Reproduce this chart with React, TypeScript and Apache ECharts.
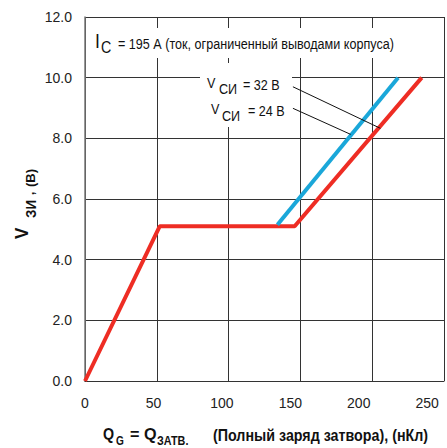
import React, { useEffect, useRef } from "react";
import * as echarts from "echarts";

// ---- data ----
const xTicks = [0, 50, 100, 150, 200, 250];
const yMin = 0;
const yMax = 12;
const yStep = 2;
const xMax = 250;
const labelAxisMax = 262.3; // tick labels in the reference are drawn on a slightly compressed scale
const series32Name = "V СИ = 32 В";
const series24Name = "V СИ = 24 В";
const series32 = [
  [0, 0],
  [52, 5.1],
  [146, 5.1],
  [234.5, 10],
];
const series24 = [
  [134, 5.15],
  [218, 10],
];
const leader32 = [
  [144.8, 9.7],
  [205.7, 8.33],
];
const leader24 = [
  [144.8, 8.99],
  [185, 8.13],
];

const RED = "#ee2d24";
const BLUE = "#1aa7d9";
const SANS = '"Liberation Sans", Arial, sans-serif';
const COND = 0.84;

export default function App() {
  const ref = useRef<HTMLDivElement>(null);
  useEffect(() => {
    document.body.style.margin = "0";
    const chart = echarts.init(ref.current!, undefined, { renderer: "svg" });
    const txt = (x: number, y: number, text: string, font: string, sx: number = COND) => ({
      type: "text",
      x,
      y,
      scaleX: sx,
      z: 101,
      silent: true,
      style: { text, font: font + " " + SANS, fill: "#111", verticalAlign: "middle", align: "left" },
    });
    chart.setOption({
      animation: false,
      backgroundColor: "#fff",
      grid: { left: 85, top: 17, right: 0, bottom: 67, containLabel: false },
      xAxis: [
        {
          type: "value",
          min: 0,
          max: xMax,
          interval: 50,
          axisLine: { show: true, onZero: false, lineStyle: { color: "#333", width: 1 } },
          axisTick: { show: false },
          axisLabel: { show: false },
          splitLine: { show: true, lineStyle: { color: "#333", width: 1 } },
        },
        {
          type: "value",
          position: "bottom",
          min: 0,
          max: labelAxisMax,
          interval: 50,
          axisLine: { show: false },
          axisTick: { show: false },
          splitLine: { show: false },
          axisLabel: {
            show: true,
            margin: 15,
            fontSize: 14,
            fontFamily: SANS,
            color: "#222",
            formatter: (v: number) => (xTicks.includes(v) ? String(v) : ""),
          },
        },
      ],
      yAxis: {
        type: "value",
        min: yMin,
        max: yMax,
        interval: yStep,
        axisLine: { show: true, lineStyle: { color: "#777", width: 1.5 } },
        axisTick: { show: false },
        axisLabel: {
          margin: 13,
          fontSize: 14,
          fontFamily: SANS,
          color: "#222",
          formatter: (v: number) => v.toFixed(1),
        },
        splitLine: { show: true, lineStyle: { color: "#333", width: 1 } },
      },
      series: [
        {
          name: series32Name,
          type: "line",
          data: series32,
          xAxisIndex: 0,
          symbol: "none",
          z: 3,
          lineStyle: { color: RED, width: 4 },
          markLine: {
            silent: true,
            symbol: ["none", "none"],
            label: { show: false },
            lineStyle: { color: "#111", width: 1, type: "solid" },
            data: [
              [{ coord: leader32[0] }, { coord: leader32[1] }],
              [{ coord: leader24[0] }, { coord: leader24[1] }],
            ],
          },
        },
        {
          name: series24Name,
          type: "line",
          data: series24,
          xAxisIndex: 0,
          symbol: "none",
          z: 4,
          lineStyle: { color: BLUE, width: 4 },
        },
      ],
      graphic: [
        { type: "rect", z: 100, silent: true, shape: { x: 88, y: 28, width: 310, height: 30 }, style: { fill: "#fff" } },
        { type: "rect", z: 100, silent: true, shape: { x: 200, y: 63, width: 92, height: 64 }, style: { fill: "#fff" } },
        txt(95, 40, "I", "21px"),
        txt(101, 47.5, "C", "17px"),
        txt(118, 43.5, "= 195 А (ток, ограниченный выводами корпуса)", "15px"),
        txt(207, 82.5, "V", "15px"),
        txt(219, 88.5, "СИ", "15px"),
        txt(243, 85, "= 32 В", "15px"),
        txt(211, 109, "V", "15px"),
        txt(222, 115.5, "СИ", "15px"),
        txt(248, 111, "= 24 В", "15px"),
        // x axis title
        txt(103, 434, "Q", "bold 17px"),
        txt(116, 440.5, "G", "bold 12px"),
        txt(130, 434, "= Q", "bold 17px", 0.95),
        txt(157, 440.5, "ЗАТВ.", "bold 12px", 0.9),
        txt(213, 435, "(Полный заряд затвора), (нКл)", "bold 17px"),
        // y axis title (rotated)
        {
          type: "group",
          x: 22,
          y: 240,
          rotation: Math.PI / 2,
          z: 101,
          children: [
            txt(1, 0, "V", "bold 18px", 0.95),
            txt(22, 8.5, "ЗИ", "bold 15px", 0.9),
            txt(45, 8, ",", "bold 12px", 1),
            txt(53, 8, "(В)", "bold 13px", 1),
          ],
        },
      ],
    });
    return () => chart.dispose();
  }, []);
  return <div ref={ref} style={{ width: 447, height: 448, position: "absolute", left: 0, top: 0 }} />;
}
